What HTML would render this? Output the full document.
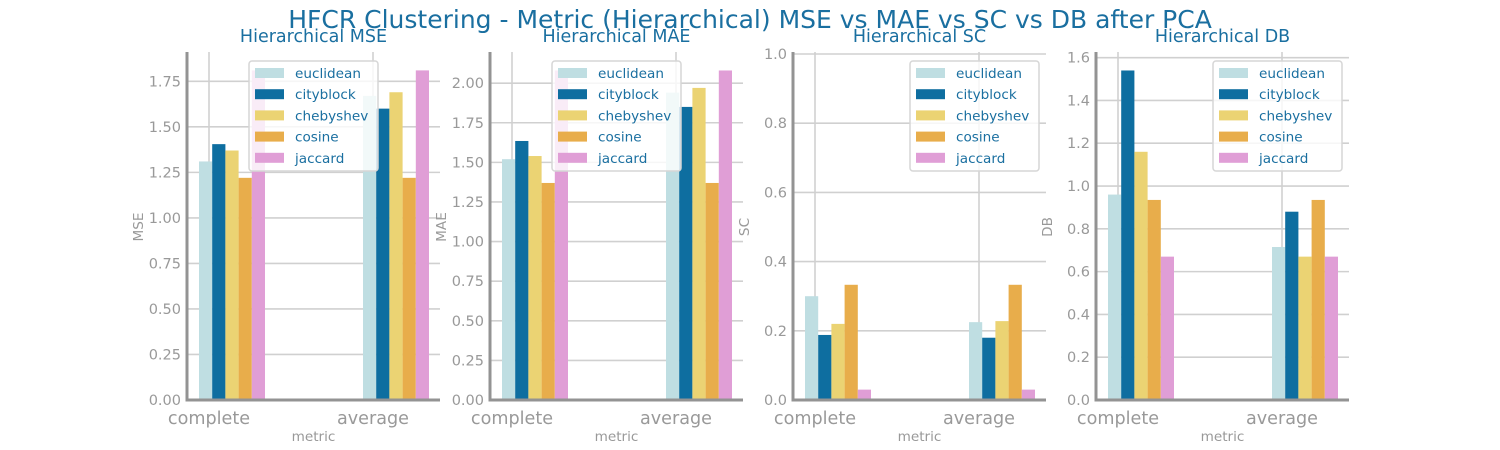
<!DOCTYPE html>
<html><head><meta charset="utf-8"><style>
html,body{margin:0;padding:0;background:#fff;}
svg{display:block;font-family:"DejaVu Sans","Liberation Sans",sans-serif;}
</style></head><body>
<svg id="chart" width="1500" height="450" viewBox="0 0 1500 450" xmlns="http://www.w3.org/2000/svg">
<text x="750" y="28" text-anchor="middle" font-size="25" fill="#1a6fa0">HFCR Clustering - Metric (Hierarchical) MSE vs MAE vs SC vs DB after PCA</text>
</svg>
<script>
const categories = ["complete", "average"];
const seriesNames = ["euclidean", "cityblock", "chebyshev", "cosine", "jaccard"];
const colors = ["#bfdee2", "#0e6ea0", "#ebd373", "#e8ad4b", "#e09ed6"];
const mseValues = [[1.31, 1.67], [1.405, 1.60], [1.37, 1.69], [1.22, 1.22], [1.81, 1.81]];
const maeValues = [[1.52, 1.94], [1.635, 1.85], [1.54, 1.97], [1.37, 1.37], [2.08, 2.08]];
const scValues = [[0.30, 0.225], [0.188, 0.18], [0.22, 0.228], [0.333, 0.333], [0.03, 0.03]];
const dbValues = [[0.96, 0.715], [1.54, 0.88], [1.16, 0.67], [0.935, 0.935], [0.67, 0.67]];
const mseTicks = [0, 0.25, 0.5, 0.75, 1.0, 1.25, 1.5, 1.75];
const maeTicks = [0, 0.25, 0.5, 0.75, 1.0, 1.25, 1.5, 1.75, 2.0];
const scTicks = [0, 0.2, 0.4, 0.6, 0.8, 1.0];
const dbTicks = [0, 0.2, 0.4, 0.6, 0.8, 1.0, 1.2, 1.4, 1.6];

const NS = "http://www.w3.org/2000/svg";
const svg = document.getElementById('chart');
function mk(tag, attrs, parent, text) {
  const e = document.createElementNS(NS, tag);
  for (const k in attrs) e.setAttribute(k, attrs[k]);
  if (text !== undefined) e.textContent = text;
  (parent || svg).appendChild(e);
  return e;
}
const panels = [
  {key: "mse", title: "Hierarchical MSE", ylab: "MSE", vals: mseValues, ticks: mseTicks, fmt: 2, ymax: 1.9, left: 187, legendRight: 62},
  {key: "mae", title: "Hierarchical MAE", ylab: "MAE", vals: maeValues, ticks: maeTicks, fmt: 2, ymax: 2.184, left: 490, legendRight: 62},
  {key: "sc", title: "Hierarchical SC", ylab: "SC", vals: scValues, ticks: scTicks, fmt: 1, ymax: 1.0, left: 793, legendRight: 7},
  {key: "db", title: "Hierarchical DB", ylab: "DB", vals: dbValues, ticks: dbTicks, fmt: 1, ymax: 1.617, left: 1096, legendRight: 7}
];
const W = 253, Y0 = 400, Y1 = 54;
panels.forEach(p => {
  const g = mk('g', {});
  
  
  const ys = v => Y0 - v / p.ymax * (Y0 - Y1);
  const xs = i => p.left + 22 + i * 164;
  p.ticks.forEach(t => {
    const y = ys(t);
    const l = mk('line', {x1: p.left, x2: p.left + W, y1: y, y2: y, stroke: '#d0d0d0', 'stroke-width': 1.6}, g);
    
    
    const tl = mk('text', {x: p.left - 6, y: y + 5, 'text-anchor': 'end', 'font-size': 14.5, fill: '#999'}, g, t.toFixed(p.fmt));
    
    
  });
  categories.forEach((c, i) => {
    const l = mk('line', {x1: xs(i), x2: xs(i), y1: Y1 - 2, y2: Y0, stroke: '#d0d0d0', 'stroke-width': 1.6}, g);
    
    
    const tl = mk('text', {x: xs(i), y: 424, 'text-anchor': 'middle', 'font-size': 17.6, fill: '#999'}, g, c);
    
    
  });
  p.vals.forEach((arr, s) => {
    arr.forEach((v, i) => {
      const x = xs(i) - 10 + s * 13.2;
      const r = mk('rect', {x: x, y: ys(v), width: 13.2, height: Y0 - ys(v), fill: colors[s]}, g);
      
      
    });
  });
  const sl = mk('line', {x1: p.left, x2: p.left, y1: Y1 - 2, y2: Y0 + 1.5, stroke: '#939393', 'stroke-width': 3}, g);
  
  
  const sb = mk('line', {x1: p.left - 1.5, x2: p.left + W, y1: Y0, y2: Y0, stroke: '#939393', 'stroke-width': 3}, g);
  
  
  const tt = mk('text', {x: p.left + W / 2, y: 42, 'text-anchor': 'middle', 'font-size': 17.5, fill: '#1a6fa0'}, g, p.title);
  
  
  const xl = mk('text', {x: p.left + W / 2, y: 441, 'text-anchor': 'middle', 'font-size': 13.6, fill: '#999'}, g, 'metric');
  
  
  const yl = mk('text', {x: 0, y: 0, 'text-anchor': 'middle', 'font-size': 13.6, fill: '#999', transform: 'translate(' + (p.left - 44) + ',' + 227 + ') rotate(-90)'}, g, p.ylab);
  
  
  const lw = 129, lx = p.left + W - p.legendRight - lw, ly = 61;
  const lg = mk('g', {}, g);
  
  
  mk('rect', {x: lx, y: ly, width: lw, height: 110, rx: 3, fill: 'rgba(255,255,255,0.8)', stroke: '#d6d6d6', 'stroke-width': 1.5}, lg);
  seriesNames.forEach((n, s) => {
    const cy = ly + 12 + s * 21.2;
    const e = mk('g', {}, lg);
    
    
    mk('rect', {x: lx + 6, y: cy - 5, width: 29, height: 10, fill: colors[s]}, e);
    mk('text', {x: lx + 46, y: cy + 5, 'font-size': 13.6, fill: '#1a6fa0'}, e, n);
  });
});
</script>
</body></html>
